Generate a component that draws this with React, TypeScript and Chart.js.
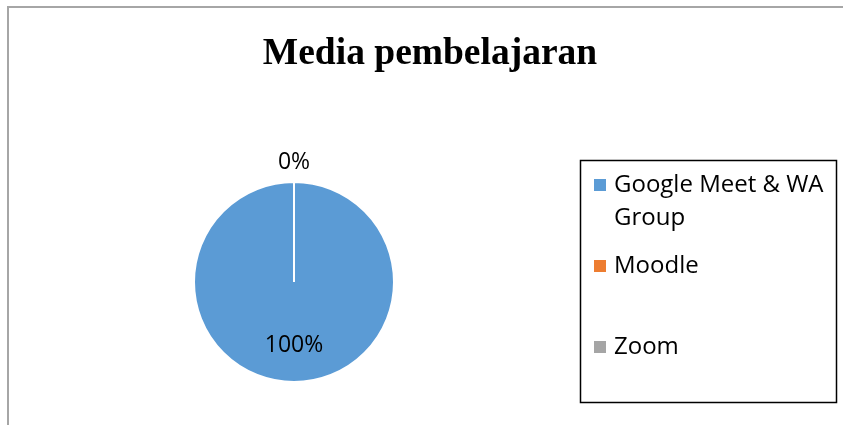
import React, { useEffect, useRef } from "react";
import { Chart, registerables } from "chart.js";

Chart.register(...registerables);

const TITLE = "Media pembelajaran";
const categories = ["Google Meet & WA Group", "Moodle", "Zoom"];
const legendLines = [["Google Meet & WA", "Group"], ["Moodle"], ["Zoom"]];
const values = [100, 0, 0];
const percentLabels = ["100%", "0%", "0%"];
const colors = ["#5B9BD5", "#ED7D31", "#A5A5A5"];

const W = 843;
const H = 425;
const LABEL_FONT = "23px 'Open Sans'";
const LEGEND_FONT = "24px 'Open Sans'";

const overlayPlugin = {
  id: "overlay",
  beforeDraw(chart: any) {
    const ctx = chart.ctx;
    ctx.save();
    ctx.fillStyle = "#ffffff";
    ctx.fillRect(0, 0, W, H);
    ctx.strokeStyle = "#a6a6a6";
    ctx.lineWidth = 2;
    ctx.strokeRect(8, 7, W + 20, H + 20);
    ctx.restore();
  },
  afterDraw(chart: any) {
    const ctx = chart.ctx;
    ctx.save();
    // title
    ctx.fillStyle = "#000000";
    ctx.font = "bold 37.5px 'Liberation Serif'";
    ctx.textAlign = "center";
    ctx.textBaseline = "alphabetic";
    ctx.fillText(TITLE, 430, 64);

    // data labels
    const meta = chart.getDatasetMeta(0);
    const seen = new Set<string>();
    ctx.font = LABEL_FONT;
    ctx.textBaseline = "middle";
    meta.data.forEach((el: any, i: number) => {
      const mid = (el.startAngle + el.endAngle) / 2;
      const v = values[i];
      const r = v > 0 ? el.outerRadius * 0.63 : el.outerRadius + 20;
      const x = Math.round(el.x + Math.cos(mid) * r);
      const y = Math.round(el.y + Math.sin(mid) * r);
      const key = x + "," + y + percentLabels[i];
      if (seen.has(key)) return;
      seen.add(key);
      ctx.fillText(percentLabels[i], x, y);
    });

    // legend box
    ctx.strokeStyle = "#000000";
    ctx.lineWidth = 1.5;
    ctx.strokeRect(580.5, 160.5, 256, 242);
    const itemY = [[185, 218], [266], [347]];
    ctx.textAlign = "left";
    ctx.font = LEGEND_FONT;
    categories.forEach((_c, i) => {
      const ys = itemY[i];
      ctx.fillStyle = colors[i];
      ctx.fillRect(594, ys[0] - 6, 12, 12);
      ctx.fillStyle = "#000000";
      legendLines[i].forEach((line, j) => {
        ctx.fillText(line, 614, ys[j]);
      });
    });
    ctx.restore();
  },
};

export default function App() {
  const ref = useRef<HTMLCanvasElement | null>(null);
  useEffect(() => {
    if (!ref.current) return;
    const chart = new Chart(ref.current, {
      type: "pie",
      data: {
        labels: categories,
        datasets: [
          {
            data: values,
            backgroundColor: colors,
            borderColor: "#ffffff",
            borderWidth: 2,
          },
        ],
      },
      options: {
        responsive: false,
        animation: false,
        devicePixelRatio: 1,
        layout: { padding: { left: 193, right: 448, top: 181, bottom: 42 } },
        plugins: {
          legend: { display: false },
          title: { display: false },
          tooltip: { enabled: false },
        },
        events: [],
      },
      plugins: [overlayPlugin],
    });
    return () => chart.destroy();
  }, []);
  return (
    <canvas
      ref={ref}
      width={W}
      height={H}
      style={{ position: "absolute", left: 0, top: 0, width: W, height: H }}
    />
  );
}
